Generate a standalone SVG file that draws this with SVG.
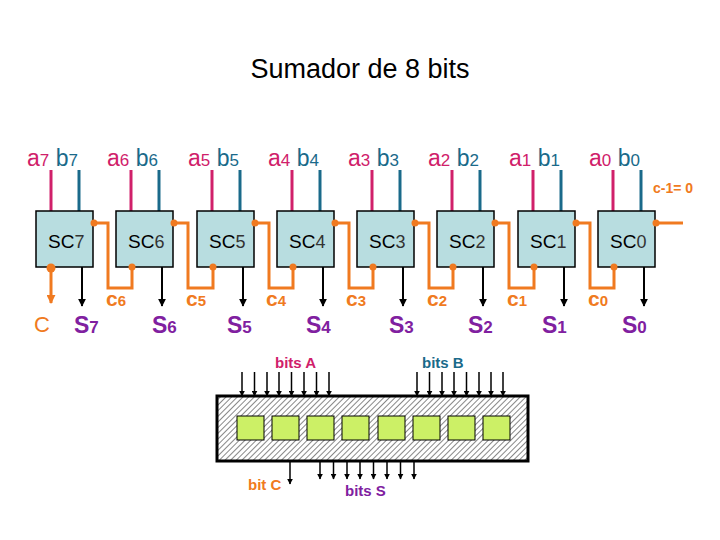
<svg xmlns="http://www.w3.org/2000/svg" width="720" height="540" viewBox="0 0 720 540">
<defs>
<marker id="ab" viewBox="0 0 10 10" refX="9" refY="5" markerWidth="4" markerHeight="4" orient="auto"><path d="M0,0L10,5L0,10z" fill="#000"/></marker>
<marker id="ao" viewBox="0 0 10 10" refX="9" refY="5" markerWidth="3" markerHeight="3" orient="auto"><path d="M0,0L10,5L0,10z" fill="#f07a20"/></marker>
<pattern id="hatch" width="4" height="4" patternUnits="userSpaceOnUse" patternTransform="rotate(45)"><rect width="4" height="4" fill="#fff"/><line x1="0" y1="0" x2="0" y2="4" stroke="#888" stroke-width="2"/></pattern>
</defs>
<style>
text{font-family:"Liberation Sans",Arial,sans-serif}
.a{fill:#d0206a}.b{fill:#1a6a8a}.o{fill:#f07a20}.p{fill:#8020a0}
.lab{font-size:23px}.sub{font-size:17px}
.box{fill:#b8dde0;stroke:#000;stroke-width:1.5}
.wa{stroke:#d0206a;stroke-width:3}.wb{stroke:#1a6a8a;stroke-width:3}
.wo{stroke:#f07a20;stroke-width:3;fill:none}
.ws{stroke:#000;stroke-width:2;marker-end:url(#ab)}
.bw{stroke:#000;stroke-width:1.5;marker-end:url(#ab)}
.sq{fill:#ccf066;stroke:#000;stroke-width:1}
.bl{font-size:15px;font-weight:bold}
.nm{font-size:19px}.ns{font-size:18px;fill:#333}
</style>
<text x="360" y="78" font-size="27" text-anchor="middle">Sumador de 8 bits</text>
<g id="connectors">
<g class="wa"><line x1="51" y1="170" x2="51" y2="211"/><line x1="131" y1="170" x2="131" y2="211"/><line x1="212" y1="170" x2="212" y2="211"/><line x1="292" y1="170" x2="292" y2="211"/><line x1="372" y1="170" x2="372" y2="211"/><line x1="452" y1="170" x2="452" y2="211"/><line x1="533" y1="170" x2="533" y2="211"/><line x1="613" y1="170" x2="613" y2="211"/></g>
<g class="wb"><line x1="79" y1="170" x2="79" y2="211"/><line x1="159" y1="170" x2="159" y2="211"/><line x1="240" y1="170" x2="240" y2="211"/><line x1="320" y1="170" x2="320" y2="211"/><line x1="400" y1="170" x2="400" y2="211"/><line x1="480" y1="170" x2="480" y2="211"/><line x1="561" y1="170" x2="561" y2="211"/><line x1="641" y1="170" x2="641" y2="211"/></g>
<g class="wo"><path d="M93,223H108V288H132V267"/><path d="M173,223H188V288H213V267"/><path d="M254,223H269V288H293V267"/><path d="M334,223H349V288H373V267"/><path d="M414,223H429V288H453V267"/><path d="M494,223H509V288H534V267"/><path d="M575,223H590V288H614V267"/><path d="M655,223H683"/><line x1="51" y1="267" x2="51" y2="303" marker-end="url(#ao)"/></g>
<g class="ws"><line x1="82" y1="267" x2="82" y2="306"/><line x1="162" y1="267" x2="162" y2="306"/><line x1="243" y1="267" x2="243" y2="306"/><line x1="323" y1="267" x2="323" y2="306"/><line x1="403" y1="267" x2="403" y2="306"/><line x1="483" y1="267" x2="483" y2="306"/><line x1="564" y1="267" x2="564" y2="306"/><line x1="644" y1="267" x2="644" y2="306"/></g>
<g class="bw"><line x1="242" y1="372" x2="242" y2="396"/><line x1="254.5" y1="372" x2="254.5" y2="396"/><line x1="267" y1="372" x2="267" y2="396"/><line x1="279" y1="372" x2="279" y2="396"/><line x1="291.5" y1="372" x2="291.5" y2="396"/><line x1="304" y1="372" x2="304" y2="396"/><line x1="316.5" y1="372" x2="316.5" y2="396"/><line x1="329" y1="372" x2="329" y2="396"/><line x1="417" y1="372" x2="417" y2="396"/><line x1="429.5" y1="372" x2="429.5" y2="396"/><line x1="442" y1="372" x2="442" y2="396"/><line x1="454" y1="372" x2="454" y2="396"/><line x1="466.5" y1="372" x2="466.5" y2="396"/><line x1="479" y1="372" x2="479" y2="396"/><line x1="491" y1="372" x2="491" y2="396"/><line x1="503" y1="372" x2="503" y2="396"/><line x1="290" y1="461" x2="290" y2="484"/><line x1="320" y1="461" x2="320" y2="479"/><line x1="333.5" y1="461" x2="333.5" y2="479"/><line x1="347" y1="461" x2="347" y2="479"/><line x1="360" y1="461" x2="360" y2="479"/><line x1="373.5" y1="461" x2="373.5" y2="479"/><line x1="387" y1="461" x2="387" y2="479"/><line x1="400.5" y1="461" x2="400.5" y2="479"/><line x1="414" y1="461" x2="414" y2="479"/></g>
</g>
<g id="SC7"><rect class="box" x="36" y="211" width="57" height="56"/><text x="48" y="248" class="nm">SC<tspan class="ns">7</tspan></text><text x="27" y="166" class="lab"><tspan class="a">a<tspan class="sub">7</tspan></tspan><tspan class="b"> b<tspan class="sub">7</tspan></tspan></text></g>
<g id="SC6"><rect class="box" x="116" y="211" width="57" height="56"/><text x="128" y="248" class="nm">SC<tspan class="ns">6</tspan></text><text x="107" y="166" class="lab"><tspan class="a">a<tspan class="sub">6</tspan></tspan><tspan class="b"> b<tspan class="sub">6</tspan></tspan></text></g>
<g id="SC5"><rect class="box" x="197" y="211" width="57" height="56"/><text x="209" y="248" class="nm">SC<tspan class="ns">5</tspan></text><text x="188" y="166" class="lab"><tspan class="a">a<tspan class="sub">5</tspan></tspan><tspan class="b"> b<tspan class="sub">5</tspan></tspan></text></g>
<g id="SC4"><rect class="box" x="277" y="211" width="57" height="56"/><text x="289" y="248" class="nm">SC<tspan class="ns">4</tspan></text><text x="268" y="166" class="lab"><tspan class="a">a<tspan class="sub">4</tspan></tspan><tspan class="b"> b<tspan class="sub">4</tspan></tspan></text></g>
<g id="SC3"><rect class="box" x="357" y="211" width="57" height="56"/><text x="369" y="248" class="nm">SC<tspan class="ns">3</tspan></text><text x="348" y="166" class="lab"><tspan class="a">a<tspan class="sub">3</tspan></tspan><tspan class="b"> b<tspan class="sub">3</tspan></tspan></text></g>
<g id="SC2"><rect class="box" x="437" y="211" width="57" height="56"/><text x="449" y="248" class="nm">SC<tspan class="ns">2</tspan></text><text x="428" y="166" class="lab"><tspan class="a">a<tspan class="sub">2</tspan></tspan><tspan class="b"> b<tspan class="sub">2</tspan></tspan></text></g>
<g id="SC1"><rect class="box" x="518" y="211" width="57" height="56"/><text x="530" y="248" class="nm">SC<tspan class="ns">1</tspan></text><text x="509" y="166" class="lab"><tspan class="a">a<tspan class="sub">1</tspan></tspan><tspan class="b"> b<tspan class="sub">1</tspan></tspan></text></g>
<g id="SC0"><rect class="box" x="598" y="211" width="57" height="56"/><text x="610" y="248" class="nm">SC<tspan class="ns">0</tspan></text><text x="589" y="166" class="lab"><tspan class="a">a<tspan class="sub">0</tspan></tspan><tspan class="b"> b<tspan class="sub">0</tspan></tspan></text></g>
<g id="dots" fill="#f07a20"><circle cx="94" cy="223" r="3.5"/><circle cx="174" cy="223" r="3.5"/><circle cx="255" cy="223" r="3.5"/><circle cx="335" cy="223" r="3.5"/><circle cx="415" cy="223" r="3.5"/><circle cx="495" cy="223" r="3.5"/><circle cx="576" cy="223" r="3.5"/><circle cx="656" cy="223" r="3.5"/><circle cx="132" cy="267" r="3.5"/><circle cx="213" cy="267" r="3.5"/><circle cx="293" cy="267" r="3.5"/><circle cx="373" cy="267" r="3.5"/><circle cx="453" cy="267" r="3.5"/><circle cx="534" cy="267" r="3.5"/><circle cx="614" cy="267" r="3.5"/><circle cx="51" cy="268" r="4.5"/></g>
<g id="labels" font-weight="bold">
<text x="653" y="193" class="o" font-size="14">c-1= 0</text>
<text x="34" y="332" class="o" font-size="22" font-weight="normal">C</text>
<g class="o" font-size="21"><text x="106" y="306">c<tspan font-size="15">6</tspan></text><text x="186" y="306">c<tspan font-size="15">5</tspan></text><text x="266" y="306">c<tspan font-size="15">4</tspan></text><text x="346" y="306">c<tspan font-size="15">3</tspan></text><text x="427" y="306">c<tspan font-size="15">2</tspan></text><text x="507" y="306">c<tspan font-size="15">1</tspan></text><text x="588" y="306">c<tspan font-size="15">0</tspan></text></g>
<g class="p" font-size="23"><text x="74" y="333">S<tspan font-size="17">7</tspan></text><text x="152" y="333">S<tspan font-size="17">6</tspan></text><text x="227" y="333">S<tspan font-size="17">5</tspan></text><text x="306" y="333">S<tspan font-size="17">4</tspan></text><text x="389" y="333">S<tspan font-size="17">3</tspan></text><text x="468" y="333">S<tspan font-size="17">2</tspan></text><text x="542" y="333">S<tspan font-size="17">1</tspan></text><text x="622" y="333">S<tspan font-size="17">0</tspan></text></g>
</g>
<g id="register">
<rect x="217" y="396" width="311" height="65" fill="url(#hatch)" stroke="#000" stroke-width="3"/>
<rect class="sq" x="237" y="416" width="27" height="24"/><rect class="sq" x="272" y="416" width="27" height="24"/><rect class="sq" x="307" y="416" width="27" height="24"/><rect class="sq" x="342" y="416" width="27" height="24"/><rect class="sq" x="378" y="416" width="27" height="24"/><rect class="sq" x="413" y="416" width="27" height="24"/><rect class="sq" x="448" y="416" width="27" height="24"/><rect class="sq" x="483" y="416" width="27" height="24"/>
<text x="275" y="368" class="bl a">bits A</text>
<text x="422" y="368" class="bl b">bits B</text>
<text x="248" y="490" class="bl o">bit C</text>
<text x="345" y="496" class="bl p">bits S</text>
</g>
</svg>
